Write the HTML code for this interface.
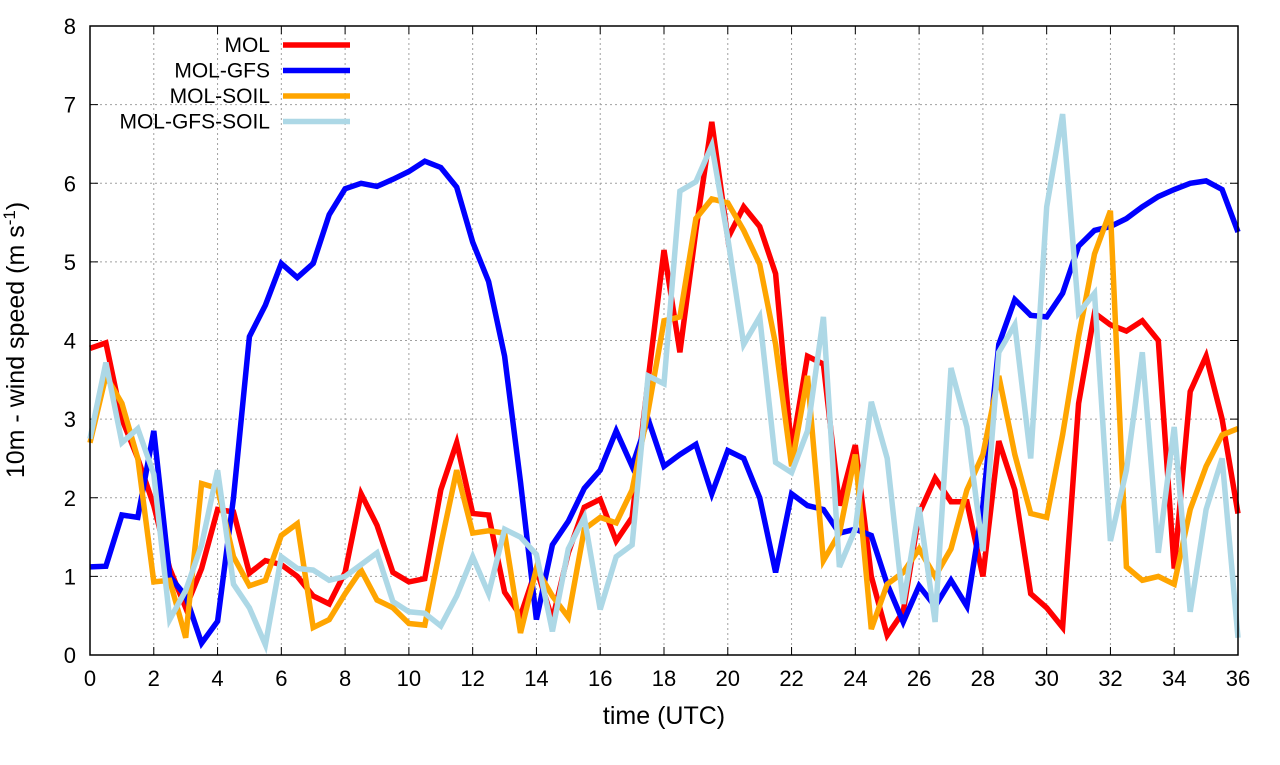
<!DOCTYPE html>
<html><head><meta charset="utf-8"><style>
body{margin:0;background:#fff}
svg text{font-family:"Liberation Sans",sans-serif;fill:#000}
</style></head><body>
<svg id="chart" width="1280" height="760" xmlns="http://www.w3.org/2000/svg"></svg>
<script>
const xTicks=[0,2,4,6,8,10,12,14,16,18,20,22,24,26,28,30,32,34,36];
const yTicks=[0,1,2,3,4,5,6,7,8];
const times=[];for(let i=0;i<=72;i++)times.push(i/2);
const seriesNames=["MOL","MOL-GFS","MOL-SOIL","MOL-GFS-SOIL"];
const seriesColors=["#ff0000","#0000ff","#ffa500","#add8e6"];
const molValues=[3.9,3.97,3.0,2.5,1.9,1.1,0.6,1.1,1.85,1.82,1.04,1.2,1.15,1.0,0.75,0.65,1.05,2.05,1.65,1.05,0.93,0.97,2.1,2.7,1.8,1.78,0.8,0.5,1.1,0.45,1.3,1.88,1.98,1.45,1.75,3.5,5.15,3.85,5.4,6.78,5.3,5.7,5.45,4.85,2.6,3.8,3.7,1.9,2.67,1.0,0.25,0.55,1.8,2.25,1.95,1.95,1.0,2.72,2.1,0.78,0.6,0.35,3.2,4.35,4.2,4.12,4.25,4.0,1.1,3.35,3.8,3.0,1.8];
const gfsValues=[1.12,1.13,1.78,1.75,2.85,1.0,0.75,0.15,0.43,2.0,4.05,4.45,4.98,4.8,4.98,5.6,5.93,6.0,5.96,6.05,6.15,6.28,6.2,5.95,5.25,4.75,3.8,2.2,0.45,1.4,1.7,2.12,2.35,2.85,2.4,3.0,2.4,2.55,2.68,2.05,2.6,2.5,2.0,1.05,2.05,1.9,1.85,1.55,1.6,1.52,0.9,0.42,0.88,0.62,0.95,0.62,1.9,3.95,4.52,4.32,4.3,4.6,5.2,5.4,5.45,5.55,5.7,5.83,5.92,6.0,6.03,5.92,5.38];
const soilValues=[2.7,3.55,3.2,2.5,0.93,0.95,0.22,2.18,2.12,1.25,0.88,0.95,1.52,1.67,0.35,0.45,0.78,1.08,0.7,0.6,0.4,0.38,1.4,2.35,1.55,1.58,1.55,0.28,1.1,0.75,0.48,1.6,1.75,1.68,2.1,3.1,4.25,4.3,5.55,5.8,5.75,5.4,4.97,3.95,2.4,3.55,1.2,1.55,2.55,0.33,0.9,1.05,1.35,1.0,1.35,2.1,2.55,3.55,2.55,1.8,1.75,2.8,4.05,5.1,5.65,1.12,0.95,1.0,0.9,1.85,2.4,2.8,2.88];
const gfsSoilValues=[2.75,3.72,2.7,2.88,2.3,0.45,0.82,1.4,2.35,0.9,0.6,0.13,1.25,1.1,1.08,0.95,1.0,1.15,1.3,0.68,0.55,0.53,0.37,0.75,1.25,0.78,1.6,1.5,1.28,0.3,1.35,1.75,0.58,1.25,1.4,3.55,3.45,5.9,6.02,6.48,5.3,3.95,4.3,2.45,2.32,2.85,4.3,1.12,1.6,3.22,2.5,0.65,1.88,0.42,3.65,2.9,1.32,3.85,4.2,2.5,5.7,6.88,4.35,4.6,1.45,2.35,3.85,1.3,2.9,0.55,1.85,2.5,0.22];
const allSeries=[molValues,gfsValues,soilValues,gfsSoilValues];

const X0=90,X1=1238,Y0=655,Y1=26;
const xs=t=>X0+(t-0)/(36-0)*(X1-X0);
const ys=v=>Y0-(v-0)/(8-0)*(Y0-Y1);
const svg=document.getElementById('chart');
const NS="http://www.w3.org/2000/svg";
function mk(tag,attrs,parent){const e=document.createElementNS(NS,tag);for(const k in attrs)e.setAttribute(k,attrs[k]);(parent||svg).appendChild(e);return e;}

const grid=mk('g',{});


xTicks.forEach(t=>{if(t>0&&t<36)mk('line',{x1:xs(t),x2:xs(t),y1:Y0,y2:Y1,stroke:'#a0a0a0','stroke-width':1,'stroke-dasharray':'2,3'},grid);});
yTicks.forEach(v=>{if(v>0&&v<8)mk('line',{x1:X0,x2:X1,y1:ys(v),y2:ys(v),stroke:'#a0a0a0','stroke-width':1,'stroke-dasharray':'2,3'},grid);});

const xa=mk('g',{});


xTicks.forEach(t=>{
 mk('line',{x1:xs(t),x2:xs(t),y1:Y0,y2:Y0-8,stroke:'#000'},xa);
 mk('line',{x1:xs(t),x2:xs(t),y1:Y1,y2:Y1+8,stroke:'#000'},xa);
 const tx=mk('text',{x:xs(t),y:Y0+31,'text-anchor':'middle','font-size':22},xa);tx.textContent=t;
});
const ya=mk('g',{});


yTicks.forEach(v=>{
 mk('line',{x1:X0,x2:X0+8,y1:ys(v),y2:ys(v),stroke:'#000'},ya);
 mk('line',{x1:X1,x2:X1-8,y1:ys(v),y2:ys(v),stroke:'#000'},ya);
 const tx=mk('text',{x:X0-14,y:ys(v)+8,'text-anchor':'end','font-size':22},ya);tx.textContent=v;
});

const lines=mk('g',{});


allSeries.forEach((vals,si)=>{
 const d=vals.map((v,i)=>(i?'L':'M')+xs(times[i]).toFixed(1)+','+ys(v).toFixed(1)).join('');
 const p=mk('path',{d:d,fill:'none',stroke:seriesColors[si],'stroke-width':5.5,'stroke-linejoin':'miter'},lines);
 
 
});

mk('rect',{x:X0,y:Y1,width:X1-X0,height:Y0-Y1,fill:'none',stroke:'#000','stroke-width':1.5});

const lg=mk('g',{});


seriesNames.forEach((n,i)=>{
 const y=45+i*25.5;
 const e=mk('g',{},lg);
 
 
 const t=mk('text',{x:270,y:y+7,'text-anchor':'end','font-size':21},e);t.textContent=n;
 mk('line',{x1:283,x2:350,y1:y,y2:y,stroke:seriesColors[i],'stroke-width':5.5},e);
});

const xt=mk('text',{x:(X0+X1)/2,y:724,'text-anchor':'middle','font-size':25});
xt.textContent='time (UTC)';


const yt=mk('text',{x:0,y:0,'text-anchor':'middle','font-size':25,transform:'translate(24,340) rotate(-90)'});


yt.innerHTML='10m - wind speed  (m s<tspan dy="-9" font-size="17">-1</tspan><tspan dy="9">)</tspan>';
</script>
</body></html>
